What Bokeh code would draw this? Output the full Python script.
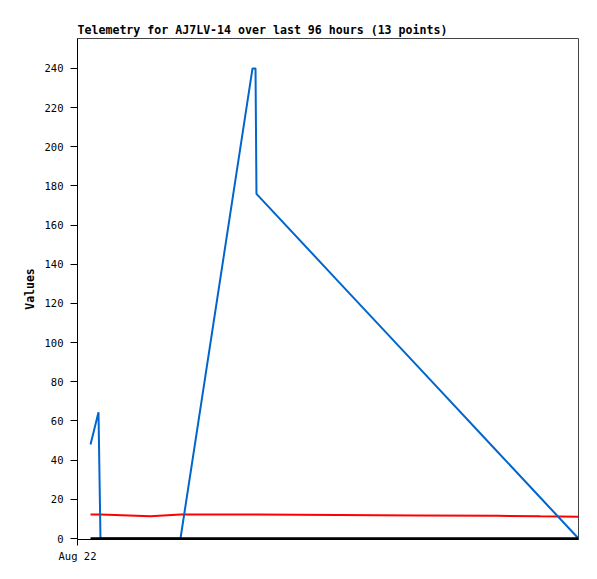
from bokeh.plotting import figure
from bokeh.models import Range1d, FixedTicker
from bokeh.embed import file_html
from bokeh.resources import INLINE

# hours since Aug 22 00:00
hours = [2.56, 4.13, 4.52, 14.36, 20.26, 34.43, 35.02, 35.21, 51.15, 66.89, 82.62, 91.08, 98.56]
series_blue = [48, 64.5, 0, 0, 0, 240, 240, 176, 131.7, 88, 44.3, 20.8, 0]
series_red = [12.2, 12.2, 12.2, 11.4, 12.2, 12.2, 12.2, 12.2, 12.0, 11.8, 11.6, 11.3, 11.1]
series_black = [0, 0, 0, 0, 0, 0, 0, 0, 0, 0, 0, 0, 0]
y_ticks = [0, 20, 40, 60, 80, 100, 120, 140, 160, 180, 200, 220, 240]
x_tick_hours = [0]
x_tick_labels = ["Aug 22"]
title_text = "Telemetry for AJ7LV-14 over last 96 hours (13 points)"

MONO = "DejaVu Sans Mono"

p = figure(width=590, height=570, output_backend="svg", toolbar_location=None,
           x_range=Range1d(0, 98.56), y_range=Range1d(-0.51, 255.3),
           min_border_left=77, min_border_right=12, min_border_top=38, min_border_bottom=31,
           background_fill_color="white", border_fill_color="white")

p.title.text = title_text
p.title.text_font = MONO
p.title.text_font_size = "11.6px"
p.title.text_font_style = "bold"
p.title.align = "left"
p.title.offset = 0
p.title.standoff = 3
p.title.text_color = "black"

p.outline_line_color = "#444444"
p.outline_line_width = 1
p.xgrid.grid_line_color = None
p.ygrid.grid_line_color = None

p.yaxis.ticker = FixedTicker(ticks=y_ticks)
p.yaxis.axis_label = "Values"
p.yaxis.axis_label_text_font = MONO
p.yaxis.axis_label_text_font_size = "11.5px"
p.yaxis.axis_label_text_font_style = "bold"
p.yaxis.axis_label_standoff = 5
p.yaxis.major_label_text_font = MONO
p.yaxis.major_label_text_font_size = "10.5px"
p.yaxis.major_label_standoff = 7
p.yaxis.minor_tick_line_color = None
p.yaxis.major_tick_out = 7
p.yaxis.major_tick_in = 0

p.xaxis.ticker = FixedTicker(ticks=x_tick_hours)
p.xaxis.major_label_overrides = dict(zip(x_tick_hours, x_tick_labels))
p.xaxis.major_label_text_font = MONO
p.xaxis.major_label_text_font_size = "10.5px"
p.xaxis.major_label_standoff = 4
p.xaxis.minor_tick_line_color = None
p.xaxis.major_tick_out = 6
p.xaxis.major_tick_in = 0

for ax in (p.xaxis, p.yaxis):
    ax.axis_line_color = "black"
    ax.major_tick_line_color = "black"
    ax.major_label_text_color = "black"
    ax.axis_label_text_color = "black"

p.line(hours, series_red, line_color="#ff0000", line_width=2)
p.line(hours, series_blue, line_color="#0066cc", line_width=2)
p.line(hours, series_black, line_color="black", line_width=2.5)

open("out.html", "w").write(file_html(p, INLINE))
